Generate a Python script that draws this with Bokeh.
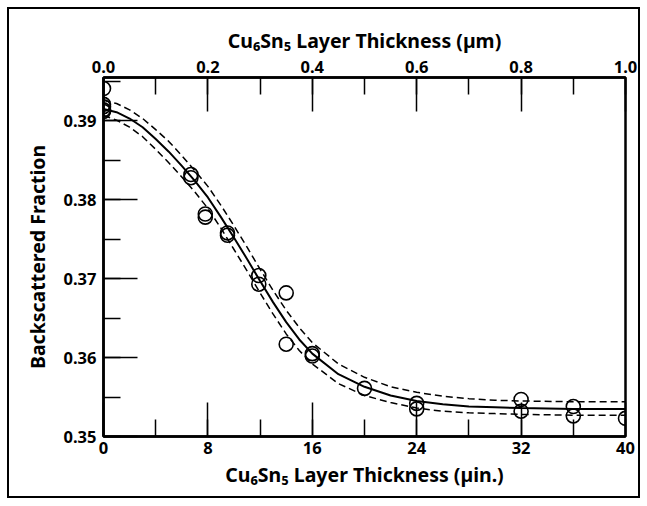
from bokeh.plotting import figure
from bokeh.models import Range1d, LinearAxis, SingleIntervalTicker
from bokeh.embed import file_html
from bokeh.resources import INLINE

# measured points: layer thickness (micro-inch) and backscattered fraction
thick_uin = [0, 0, 0, 0, 0, 6.7, 6.7, 7.8, 7.8, 9.5, 9.5, 11.9,
             11.9, 14, 14, 16, 16, 20, 24, 24, 32, 32, 36, 36, 40]
bsf = [0.3941, 0.3921, 0.3918, 0.3914, 0.3912, 0.3832, 0.3828, 0.3782, 0.3778,
       0.3758, 0.3755, 0.3704, 0.3693, 0.3682, 0.3617, 0.3605, 0.3602, 0.3561,
       0.3542, 0.3535, 0.3547, 0.3532, 0.3538, 0.3526, 0.3523]

# fitted curve and confidence band
fit_x = [0, 1, 2, 3, 4, 5, 6, 7, 8, 9, 10, 11, 12, 13, 14, 15, 16, 18, 20, 22,
         24, 26, 28, 30, 32, 36, 40]
fit_y = [0.3915, 0.3911, 0.3903, 0.3892, 0.3877, 0.3861, 0.3843, 0.3824, 0.3803,
         0.3778, 0.3752, 0.3725, 0.3697, 0.3670, 0.3645, 0.3623, 0.3605, 0.3579,
         0.3563, 0.3552, 0.3545, 0.3541, 0.3538, 0.3537, 0.3536, 0.3535, 0.3535]
upper_y = [0.3926, 0.3922, 0.3914, 0.3903, 0.3889, 0.3874, 0.3856, 0.3837, 0.3817,
           0.3793, 0.3767, 0.3740, 0.3712, 0.3685, 0.3660, 0.3638, 0.3619, 0.3592,
           0.3575, 0.3563, 0.3556, 0.3551, 0.3548, 0.3546, 0.3545, 0.3544, 0.3544]
lower_y = [0.3907, 0.3901, 0.3892, 0.3880, 0.3864, 0.3847, 0.3829, 0.3810, 0.3789,
           0.3764, 0.3737, 0.3710, 0.3682, 0.3655, 0.3630, 0.3609, 0.3592, 0.3567,
           0.3552, 0.3543, 0.3536, 0.3532, 0.3530, 0.3529, 0.3528, 0.3527, 0.3527]

FONT = "Noto Sans"

p = figure(width=633, height=491, output_backend="svg", toolbar_location=None,
           x_range=Range1d(0, 40), y_range=Range1d(0.35, 0.3955),
           min_border_left=94, min_border_right=17, min_border_top=68,
           min_border_bottom=64,
           styles={"margin-left": "7px", "margin-top": "7px",
                   "border": "2.5px solid black", "box-sizing": "border-box"})
p.grid.visible = False
p.outline_line_color = "black"
p.outline_line_width = 2.5
p.background_fill_color = "white"
p.border_fill_color = "white"

p.extra_x_ranges = {"um": Range1d(0, 1)}
top = LinearAxis(x_range_name="um",
                 axis_label="Cu\u2086Sn\u2085 Layer Thickness (\u00b5m)",
                 ticker=SingleIntervalTicker(interval=0.2, num_minor_ticks=2))
p.add_layout(top, "above")

bottom = p.below[0]
left = p.left[0]
bottom.ticker = SingleIntervalTicker(interval=8, num_minor_ticks=2)
bottom.axis_label = "Cu\u2086Sn\u2085 Layer Thickness (\u00b5in.)"
left.ticker = SingleIntervalTicker(interval=0.01, num_minor_ticks=2)
left.axis_label = "Backscattered Fraction"

for ax in (top, bottom, left):
    ax.major_tick_in = 34
    ax.major_tick_out = 0
    ax.minor_tick_in = 17
    ax.minor_tick_out = 0
    ax.axis_line_width = 2.5
    ax.axis_line_color = "black"
    ax.major_tick_line_width = 1.5
    ax.minor_tick_line_width = 1.5
    ax.major_tick_line_color = "black"
    ax.minor_tick_line_color = "black"
    ax.major_label_text_font = FONT
    ax.major_label_text_font_style = "bold"
    ax.major_label_text_font_size = "16.5px"
    ax.major_label_text_color = "black"
    ax.major_label_standoff = 5
    ax.axis_label_text_font = FONT
    ax.axis_label_text_font_style = "bold"
    ax.axis_label_text_font_size = "19.5px"
    ax.axis_label_text_color = "black"
    ax.axis_label_standoff = 4

left.major_label_standoff = 7
left.axis_label_standoff = 10

top.major_label_overrides = {0: "0.0", 1: "1.0"}

p.line(fit_x, upper_y, line_color="black", line_width=1.5, line_dash="7 4")
p.line(fit_x, lower_y, line_color="black", line_width=1.5, line_dash="7 4")
p.line(fit_x, fit_y, line_color="black", line_width=2)
p.scatter(thick_uin, bsf, size=14, marker="circle", fill_color=None,
          line_color="black", line_width=1.6)

open("out.html", "w").write(file_html(p, INLINE))
